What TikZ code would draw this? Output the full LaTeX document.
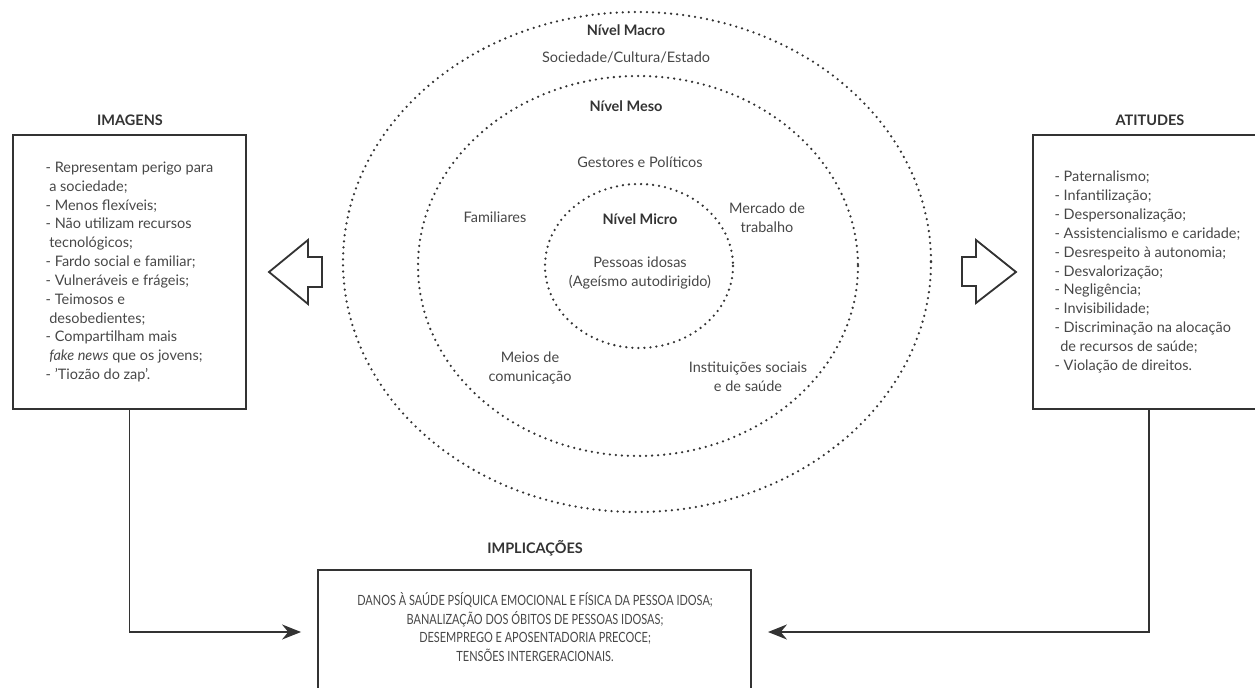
\documentclass[tikz,border=0pt]{standalone}
\usepackage{fontspec}
\setmainfont{Lato}
\newfontfamily\condfont[FakeStretch=0.78]{Lato}
\usetikzlibrary{arrows.meta}
\definecolor{ink}{HTML}{333333}
\definecolor{txt}{HTML}{474747}

\begin{document}
\begin{tikzpicture}[x=0.025cm,y=-0.025cm,
  every node/.append style={font=\fontsize{10.3}{13.4}\selectfont},
  box/.style={draw=ink,line width=1.3pt,text=txt,align=left,inner sep=0pt},
  head/.style={text=ink,font=\fontsize{10.3}{13.4}\selectfont\bfseries},
  lbl/.style={text=txt,align=center},
  ring/.style={draw=ink,line width=1.8pt,line cap=round,dash pattern=on 0pt off 4.3pt},
  conn/.style={draw=ink,line width=1.1pt,shorten >=0.4cm,-{Stealth[length=13.5pt,width=10.7pt]}},
  hollow/.style={draw=ink,line width=1.3pt,line join=miter}]
  \useasboundingbox (0,0) rectangle (1255,688);
  \clip (0,0) rectangle (1255,688);

  % levels
  \draw[ring] (637,262) ellipse [x radius=294, y radius=250];
  \draw[ring] (638,266) ellipse [x radius=220, y radius=190];
  \draw[ring] (639,266) ellipse [x radius=94, y radius=82];

  \node[head] (macro) at (626,30) {Nível Macro};
  \node[lbl] (sociedade) at (626,57) {Sociedade/Cultura/Estado};
  \node[head] (meso) at (626,106) {Nível Meso};
  \node[lbl] (gestores) at (640,162) {Gestores e Políticos};
  \node[lbl] (familiares) at (495,217) {Familiares};
  \node[lbl] (mercado) at (767,218) {Mercado de\\trabalho};
  \node[head] (micro) at (640,219) {Nível Micro};
  \node[lbl] (idosas) at (640,273) {Pessoas idosas\\(Ageísmo autodirigido)};
  \node[lbl] (meios) at (530,368) {Meios de\\comunicação};
  \node[lbl] (instituicoes) at (748,377) {Instituições sociais\\e de saúde};

  % side boxes
  \node[head] (imgtitle) at (130,120) {IMAGENS};
  \node[box,minimum width=5.825cm,minimum height=6.85cm] (imgbox) at (129.5,272) {%
    - Representam perigo para\\
    \hspace*{2.5pt}a sociedade;\\
    - Menos flexíveis;\\
    - Não utilizam recursos\\
    \hspace*{2.5pt}tecnológicos;\\
    - Fardo social e familiar;\\
    - Vulneráveis e frágeis;\\
    - Teimosos e\\
    \hspace*{2.5pt}desobedientes;\\
    - Compartilham mais\\
    \hspace*{2.5pt}\textit{fake news} que os jovens;\\
    - 'Tiozão do zap'.};

  \node[head] (atttitle) at (1150,120) {ATITUDES};
  \node[box,minimum width=5.725cm,minimum height=6.85cm] (attbox) at (1147.5,272) {%
    - Paternalismo;\\
    - Infantilização;\\
    - Despersonalização;\\
    - Assistencialismo e caridade;\\
    - Desrespeito à autonomia;\\
    - Desvalorização;\\
    - Negligência;\\
    - Invisibilidade;\\
    - Discriminação na alocação\\
    \hspace*{4pt}de recursos de saúde;\\
    - Violação de direitos.};

  % hollow arrows
  \draw[hollow] (269,272) -- (308,240) -- (308,257) -- (322,257) -- (322,287)
    -- (308,287) -- (308,304) -- cycle;
  \draw[hollow] (1016,272) -- (976,240) -- (976,257) -- (962,257) -- (962,286)
    -- (976,286) -- (976,303) -- cycle;

  % implications
  \node[head] (impltitle) at (535,548) {IMPLICAÇÕES};
  \node[box,minimum width=10.825cm,minimum height=3.1cm] (implbox) at (534.5,632) {};
  \node[lbl,font=\condfont\fontsize{10}{13.4}\selectfont] (impltext) at (535,627) {%
    DANOS À SAÚDE PSÍQUICA EMOCIONAL E FÍSICA DA PESSOA IDOSA;\\
    BANALIZAÇÃO DOS ÓBITOS DE PESSOAS IDOSAS;\\
    DESEMPREGO E APOSENTADORIA PRECOCE;\\
    TENSÕES INTERGERACIONAIS.};

  \draw[conn] (imgbox.south) |- (implbox.west);
  \draw[conn] ([xshift=0.04cm]attbox.south) |- (implbox.east);
\end{tikzpicture}
\end{document}
